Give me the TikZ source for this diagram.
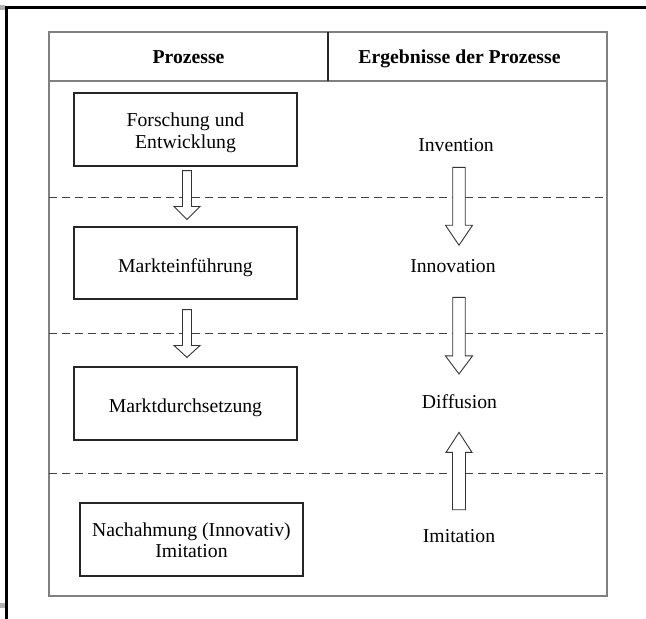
\documentclass[tikz,border=0pt]{standalone}
\usepackage{fontspec}
\setmainfont{Liberation Serif}
\usetikzlibrary{calc}

% hollow block arrow: #1 tail, #2 tip (named coordinates),
% #3 shaft half-width, #4 head half-width, #5 head length
\newcommand\hollowarrow[5]{%
  \draw[blockarrow] let \p1=(#1), \p2=(#2), \p3=($(#2)!#5!(#1)$) in
    (\x2-#3,\y1) -- (\x2-#3,\y3) -- (\x2-#4,\y3)
    -- (\x2,\y2) -- (\x2+#4,\y3) -- (\x2+#3,\y3)
    -- (\x2+#3,\y1) -- cycle;}

\begin{document}
\begin{tikzpicture}[x=1pt,y=-1pt,
  frameline/.style={draw=black!50, line width=1.3pt},
  rowsep/.style={draw=black!75, line width=0.9pt, dash pattern=on 8pt off 5pt},
  stepbox/.style={draw=black!85, line width=1.1pt, inner sep=0pt,
                  minimum width=223pt, minimum height=73pt},
  txt/.style={inner sep=0pt, font=\fontsize{19.7}{21.5}\selectfont, align=center},
  hdr/.style={inner sep=0pt, font=\fontsize{19.7}{21.5}\selectfont\bfseries},
  blockarrow/.style={draw=black!80, fill=white, line width=0.9pt, line join=miter}]

\useasboundingbox (0,0) rectangle (646,619);

% heavy page border and corner marks
\draw[line width=3pt] (646,7.5) -- (6.5,7.5) -- (6.5,619);
\fill[black!30] (0,5) rectangle (5,10);
\fill[black!30] (0,603) rectangle (5,608);

% table frame and header
\draw[frameline] (49,32) rectangle (607,596);
\draw[frameline] (49,81) -- (607,81);
\draw[draw=black!85, line width=1.1pt] (328,32) -- (328,81);
\node[hdr, anchor=base] (hp) at (188.5,63) {Prozesse};
\node[hdr, anchor=base] (he) at (459.5,63) {Ergebnisse der Prozesse};

% row separators
\draw[rowsep] (49,197) -- (607,197);
\draw[rowsep] (49,333) -- (607,333);
\draw[rowsep] (49,473) -- (607,473);

% process boxes
\node[stepbox] (fe) at (185.5,129.5) {};
\node[stepbox, minimum height=72pt] (me) at (185.5,263) {};
\node[stepbox] (md) at (185.5,403.5) {};
\node[stepbox] (na) at (191.5,539.5) {};

\node[txt] (fe-t) at (185.5,133) {Forschung und\\Entwicklung};
\node[txt, anchor=base] (me-t) at (185.5,272) {Markteinführung};
\node[txt, anchor=base] (md-t) at (185.5,412) {Marktdurchsetzung};
\node[txt] (na-t) at (191.5,540.5) {Nachahmung (Innovativ)\\Imitation};

% results column
\node[txt, anchor=base] (inv) at (456,151) {Invention};
\node[txt, anchor=base] (inn) at (453,272) {Innovation};
\node[txt, anchor=base] (dif) at (459.5,408) {Diffusion};
\node[txt, anchor=base] (imi) at (459,542) {Imitation};

\coordinate (lcol) at (187,0);
\coordinate (rcol) at (459,0);

% arrow end points
\coordinate (a1s) at ($(fe.south -| lcol)+(0,4)$);
\coordinate (a1e) at ($(me.north -| lcol)+(0,-7)$);
\coordinate (a2s) at ($(me.south -| lcol)+(0,10)$);
\coordinate (a2e) at ($(md.north -| lcol)+(0,-9)$);
\coordinate (b1s) at ($(inv.south -| rcol)+(0,16)$);
\coordinate (b1e) at ($(inn.north -| rcol)+(0,-13.5)$);
\coordinate (b2s) at ($(inn.south -| rcol)+(0,25)$);
\coordinate (b2e) at ($(dif.north -| rcol)+(0,-20)$);
\coordinate (b3s) at ($(imi.north -| rcol)+(0,-19)$);
\coordinate (b3e) at ($(dif.south -| rcol)+(0,24)$);

% arrows between process boxes
\hollowarrow{a1s}{a1e}{4.5pt}{13pt}{13pt}
\hollowarrow{a2s}{a2e}{4.5pt}{13pt}{12pt}

% arrows between results
\hollowarrow{b1s}{b1e}{6.25pt}{13.5pt}{20pt}
\hollowarrow{b2s}{b2e}{6.25pt}{13.5pt}{18pt}
\hollowarrow{b3s}{b3e}{6.5pt}{13pt}{20pt}

\end{tikzpicture}
\end{document}
